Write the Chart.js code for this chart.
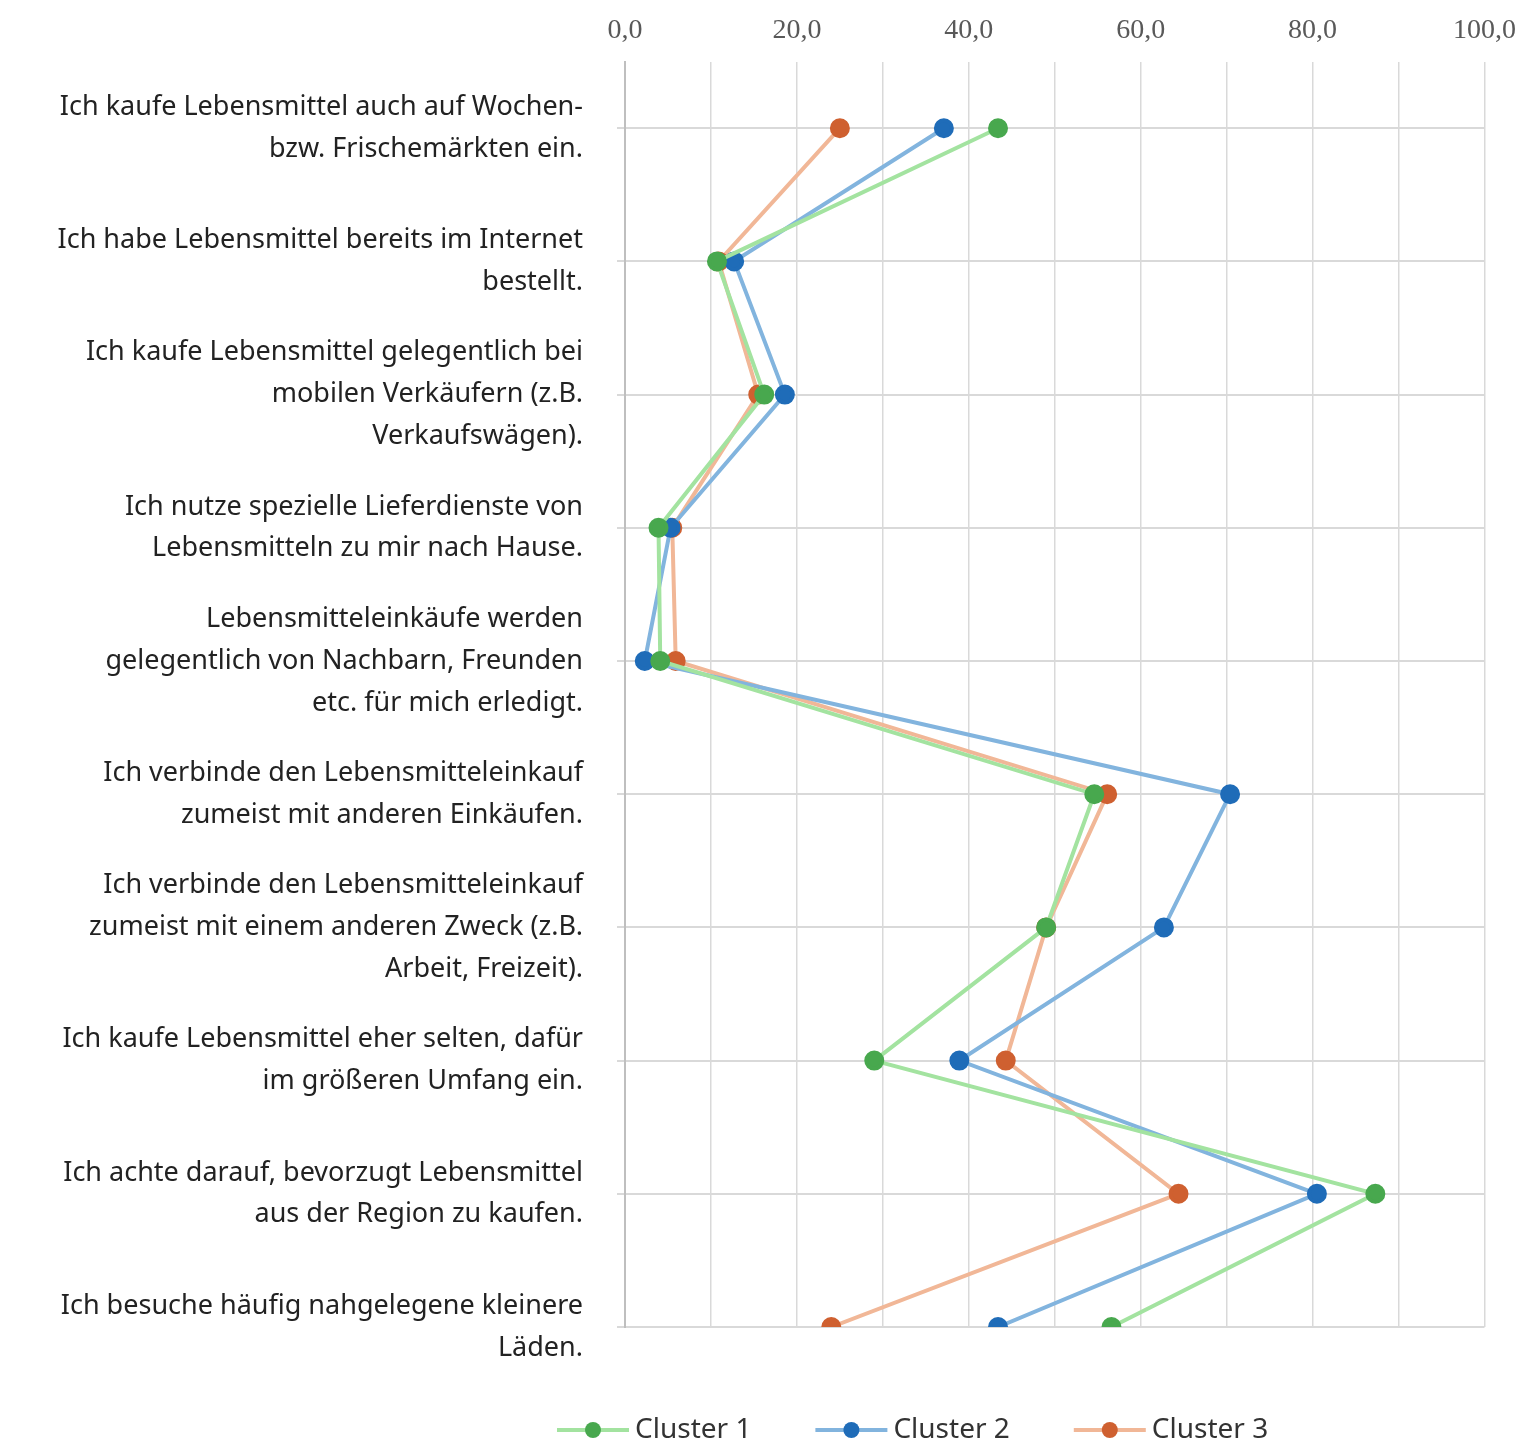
<!DOCTYPE html>
<html>
<head>
<meta charset="utf-8">
<script src="https://cdn.jsdelivr.net/npm/chart.js@4/dist/chart.umd.min.js"></script>
<style>
  body { margin: 0; background: #fff; }
  #wrap { width: 1530px; height: 1446px; }
</style>
</head>
<body>
<div id="wrap"><canvas id="chart"></canvas></div>
<script>
// Aussagen (Kategorien)
const statements = [
    ['Ich kaufe Lebensmittel auch auf Wochen-', 'bzw. Frischemärkten ein.'],
    ['Ich habe Lebensmittel bereits im Internet', 'bestellt.'],
    ['Ich kaufe Lebensmittel gelegentlich bei', 'mobilen Verkäufern (z.B.', 'Verkaufswägen).'],
    ['Ich nutze spezielle Lieferdienste von', 'Lebensmitteln zu mir nach Hause.'],
    ['Lebensmitteleinkäufe werden', 'gelegentlich von Nachbarn, Freunden', 'etc. für mich erledigt.'],
    ['Ich verbinde den Lebensmitteleinkauf', 'zumeist mit anderen Einkäufen.'],
    ['Ich verbinde den Lebensmitteleinkauf', 'zumeist mit einem anderen Zweck (z.B.', 'Arbeit, Freizeit).'],
    ['Ich kaufe Lebensmittel eher selten, dafür', 'im größeren Umfang ein.'],
    ['Ich achte darauf, bevorzugt Lebensmittel', 'aus der Region zu kaufen.'],
    ['Ich besuche häufig nahgelegene kleinere', 'Läden.']
];

const cluster1 = [43.4, 10.7, 16.2, 3.9, 4.1, 54.6, 49.0, 29.0, 87.3, 56.6];
const cluster2 = [37.1, 12.7, 18.6, 5.3, 2.3, 70.4, 62.7, 38.9, 80.5, 43.4];
const cluster3 = [25.0, 10.9, 15.5, 5.5, 5.9, 56.1, 49.0, 44.3, 64.4, 24.0];

const xTicks = [0, 20, 40, 60, 80, 100];

function makeSet(label, values, lineColor, dotColor) {
    return {
        label: label,
        data: values.map((v, i) => ({ x: v, y: i })),
        borderColor: lineColor,
        backgroundColor: dotColor,
        pointBackgroundColor: dotColor,
        pointBorderColor: dotColor,
        pointRadius: 8,
        borderWidth: 4,
        pointStyle: 'circle'
    };
}

// Legende unten: Linie mit Punkt, selbst gezeichnet
const bottomLegend = {
    id: 'bottomLegend',
    afterDraw(ch) {
        const ctx = ch.ctx;
        const y = 1430;
        ctx.save();
        ctx.font = '28px "Noto Sans"';
        ctx.textBaseline = 'middle';
        const items = ch.data.datasets.map(ds => ({ ds, w: 72 + 6 + ctx.measureText(ds.label).width }));
        const gap = 64;
        const total = items.reduce((s, it) => s + it.w, 0) + gap * (items.length - 1);
        let x = 557 + (0 * total);
        items.forEach(it => {
            ctx.strokeStyle = it.ds.borderColor;
            ctx.lineWidth = 4;
            ctx.beginPath(); ctx.moveTo(x, y); ctx.lineTo(x + 72, y); ctx.stroke();
            ctx.fillStyle = it.ds.backgroundColor;
            ctx.beginPath(); ctx.arc(x + 36, y, 8, 0, Math.PI * 2); ctx.fill();
            ctx.fillStyle = '#333';
            ctx.fillText(it.ds.label, x + 78, y);
            x += it.w + gap;
        });
        ctx.restore();
    }
};

const chart = new Chart(document.getElementById('chart'), {
    type: 'line',
    data: {
        datasets: [
            makeSet('Cluster 1', cluster1, '#a3e3a0', '#48a84e'),
            makeSet('Cluster 2', cluster2, '#82b4de', '#1f6cb8'),
            makeSet('Cluster 3', cluster3, '#f1b797', '#cf6030')
        ]
    },
    plugins: [bottomLegend],
    options: {
        responsive: true,
        maintainAspectRatio: false,
        animation: false,
        layout: { padding: { left: 0, right: 34, top: 0, bottom: 119 } },
        plugins: {
            legend: { display: false },
            tooltip: { enabled: false }
        },
        scales: {
            x: {
                type: 'linear',
                position: 'top',
                min: 0,
                max: 100,
                border: { display: false },
                grid: { color: '#d9d9d9', lineWidth: 1.5, drawTicks: false },
                ticks: {
                    stepSize: 10,
                    padding: 14,
                    font: { size: 28, family: 'Liberation Serif' },
                    color: '#595959',
                    callback: function (value) {
                        return xTicks.includes(value) ? value.toFixed(1).replace('.', ',') : '';
                    }
                }
            },
            y: {
                type: 'linear',
                reverse: true,
                min: -0.5,
                max: statements.length - 1,
                afterFit: function (scale) { scale.width = 625; },
                border: { display: true, color: '#bfbfbf', width: 2 },
                grid: {
                    color: function (ctx) { return ctx.tick && ctx.tick.value >= 0 ? '#d9d9d9' : 'transparent'; },
                    lineWidth: 2,
                    tickLength: 8
                },
                ticks: {
                    stepSize: 1,
                    autoSkip: false,
                    padding: 34,
                    font: { size: 27, family: 'Noto Sans', lineHeight: 1.55 },
                    color: '#222',
                    callback: function (value) {
                        return Number.isInteger(value) && value >= 0 ? statements[value] : '';
                    }
                }
            }
        }
    }
});
</script>
</body>
</html>
